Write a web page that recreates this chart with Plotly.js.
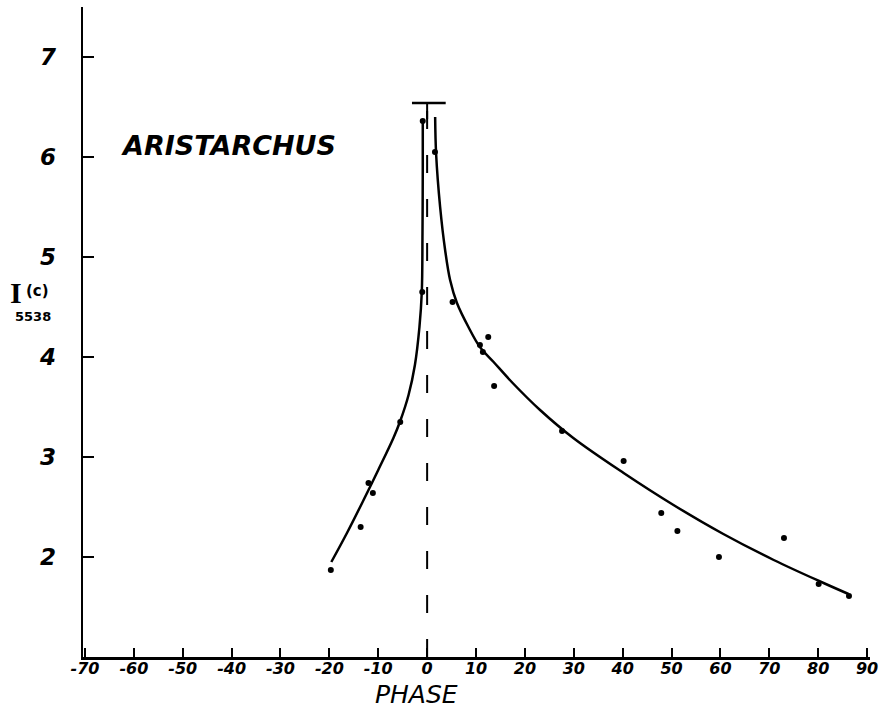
<!DOCTYPE html>
<html>
<head>
<meta charset="utf-8">
<script src="https://cdn.plot.ly/plotly-3.0.1.min.js"></script>
<style>html,body{margin:0;padding:0;background:#fff;}#chart{width:882px;height:711px;}</style>
</head>
<body>
<div id="chart"></div>
<script>
// Observed points
const phase = [-19.7, -13.6, -12.0, -11.1, -5.5, -1.0, -0.9, 1.6, 5.2, 10.8, 11.4, 12.5, 13.7, 27.6, 40.2, 47.9, 51.2, 59.7, 73.0, 80.1, 86.3];
const intensity = [1.87, 2.30, 2.74, 2.64, 3.35, 4.65, 6.36, 6.05, 4.55, 4.12, 4.05, 4.20, 3.71, 3.26, 2.96, 2.44, 2.26, 2.00, 2.19, 1.73, 1.61];

// Hand-drawn curve, left branch (negative phase)
const curveLeftX = [-19.6, -16.4, -13.0, -10.0, -6.9, -5.5, -3.8, -2.5, -1.57, -1.09, -0.95, -0.89, -0.89];
const curveLeftY = [1.95, 2.24, 2.57, 2.87, 3.19, 3.36, 3.62, 3.92, 4.30, 4.65, 5.24, 5.90, 6.37];

// Hand-drawn curve, right branch (positive phase)
const curveRightX = [1.64, 1.84, 2.66, 3.68, 4.7, 6.1, 8.45, 10.8, 13.6, 17.5, 23.1, 29.9, 40.2, 50.4, 60.6, 70.9, 81.1, 86.2];
const curveRightY = [6.40, 6.03, 5.50, 5.07, 4.77, 4.54, 4.30, 4.10, 3.95, 3.74, 3.47, 3.19, 2.84, 2.52, 2.23, 1.97, 1.74, 1.63];

// Ticks
const xTicks = [-70, -60, -50, -40, -30, -20, -10, 0, 10, 20, 30, 40, 50, 60, 70, 80, 90];
const yTicks = [2, 3, 4, 5, 6, 7];

// Peak marker (T-bar) and zero-phase line
const peakLevel = 6.54;
const peakBarX = [-3.1, 3.8];

const hand = "DejaVu Sans";

const traces = [
  {x: curveLeftX, y: curveLeftY, mode: 'lines', line: {color: '#000', width: 2.5, shape: 'spline', smoothing: 1.0}, hoverinfo: 'skip'},
  {x: curveRightX, y: curveRightY, mode: 'lines', line: {color: '#000', width: 2.5, shape: 'spline', smoothing: 1.0}, hoverinfo: 'skip'},
  {x: phase, y: intensity, mode: 'markers', marker: {color: '#000', size: 6}}
];

const layout = {
  width: 882, height: 711,
  margin: {l: 83, r: 12, t: 7, b: 54},
  paper_bgcolor: '#fff', plot_bgcolor: '#fff',
  showlegend: false,
  xaxis: {
    range: [-70.4, 90.6], tickvals: xTicks, ticktext: xTicks.map(String),
    showgrid: false, zeroline: false, showline: true, linecolor: '#000', linewidth: 2.5,
    ticks: 'inside', ticklen: 9, tickwidth: 2, tickcolor: '#000',
    tickfont: {family: hand, size: 16, color: '#000', weight: 'bold', style: 'italic'},
    ticklabelstandoff: -5
  },
  yaxis: {
    range: [1, 7.5], tickvals: yTicks, ticktext: yTicks.map(String),
    showgrid: false, zeroline: false, showline: true, linecolor: '#000', linewidth: 2.5,
    ticks: 'inside', ticklen: 11, tickwidth: 2, tickcolor: '#000',
    tickfont: {family: hand, size: 23, color: '#000', weight: 'bold', style: 'italic'},
    ticklabelstandoff: 20
  },
  shapes: [
    {type: 'line', xref: 'x', yref: 'y', x0: 0, x1: 0, y0: 1, y1: peakLevel, line: {color: '#000', width: 2, dash: '18px,26px'}},
    {type: 'line', xref: 'x', yref: 'y', x0: 0, x1: 0, y0: 6.38, y1: peakLevel, line: {color: '#000', width: 2}},
    {type: 'line', xref: 'x', yref: 'y', x0: peakBarX[0], x1: peakBarX[1], y0: peakLevel, y1: peakLevel, line: {color: '#000', width: 2.5}}
  ],
  annotations: [
    {text: 'ARISTARCHUS', xref: 'x', yref: 'y', x: -40.7, y: 6.12, showarrow: false,
     font: {family: hand, size: 27, color: '#000', weight: 'bold', style: 'italic'}},
    {text: 'PHASE', xref: 'paper', yref: 'paper', xanchor: 'center', yanchor: 'middle', x: (416 - 83) / 787, y: -(694 - 657) / 650, showarrow: false,
     font: {family: hand, size: 25, color: '#000', style: 'italic'}},
    {text: 'I', xref: 'paper', yref: 'paper', xanchor: 'center', yanchor: 'middle', x: -(83 - 16) / 787, y: (657 - 293) / 650, showarrow: false,
     font: {family: 'Liberation Serif', size: 30, color: '#000', weight: 'bold'}},
    {text: '(c)', xref: 'paper', yref: 'paper', xanchor: 'center', yanchor: 'middle', x: -(83 - 37) / 787, y: (657 - 291) / 650, showarrow: false,
     font: {family: hand, size: 15, color: '#000', weight: 'bold'}},
    {text: '5538', xref: 'paper', yref: 'paper', xanchor: 'center', yanchor: 'middle', x: -(83 - 33) / 787, y: (657 - 316) / 650, showarrow: false,
     font: {family: hand, size: 13, color: '#000', weight: 'bold'}}
  ]
};

Plotly.newPlot('chart', traces, layout, {displayModeBar: false, staticPlot: true});
</script>
</body>
</html>
